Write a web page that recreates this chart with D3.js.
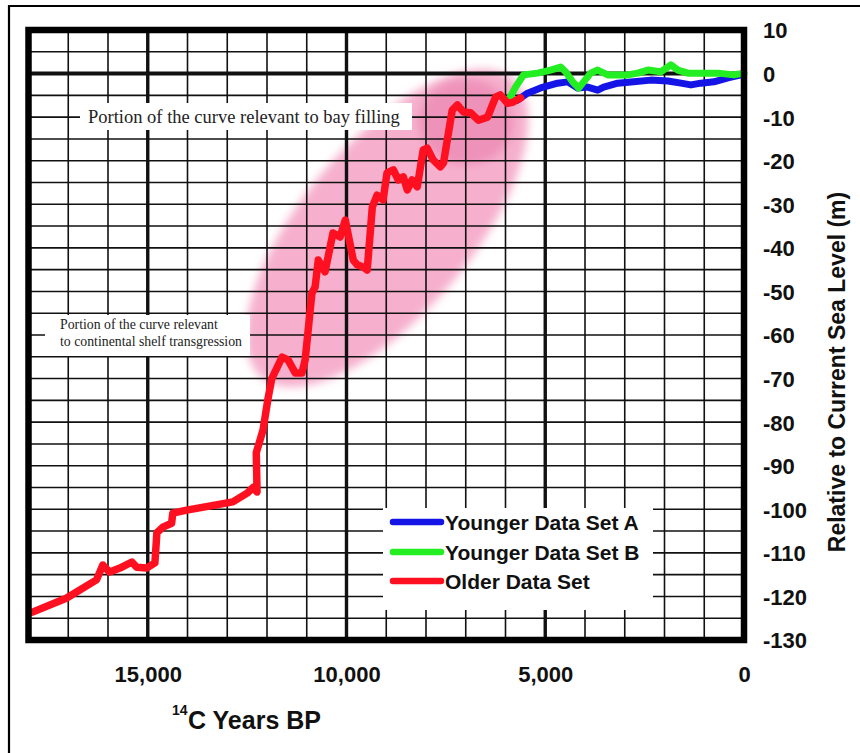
<!DOCTYPE html>
<html><head><meta charset="utf-8">
<script src="https://cdn.jsdelivr.net/npm/d3@7"></script>
<style>
html,body{margin:0;padding:0;background:#fff;}
svg{display:block;}
</style></head>
<body>
<svg id="chart" width="860" height="753"></svg>
<script>
// ---- data ----
const olderYears  = [17900,17050,16290,16130,15960,15700,15400,15280,15030,14820,14770,14620,14400,14370,14020,12860,12500,12350,12250,12270,12100,11980,11880,11620,11470,11290,11120,11040,10870,10790,10710,10540,10340,10160,10030,9830,9730,9580,9480,9350,9230,9080,8980,8820,8700,8570,8470,8350,8220,8070,7970,7820,7640,7560,7340,7210,7060,6880,6680,6450,6250,6130,5950,5820,5620];
const olderLevels = [-123.6,-120.4,-116.2,-112.8,-114.4,-113.5,-112.1,-113.3,-113.5,-112.3,-105.4,-104.1,-103.2,-100.9,-100.2,-98.3,-96.3,-95.0,-96.0,-87.0,-81.8,-74.9,-70.0,-65.1,-65.7,-68.7,-68.7,-65.7,-50.4,-49.0,-42.8,-45.5,-36.6,-37.5,-33.6,-42.8,-43.9,-44.4,-45.1,-30.6,-27.9,-29.0,-22.8,-22.1,-24.4,-23.7,-26.7,-24.4,-26.0,-17.5,-17.1,-19.8,-21.4,-20.5,-8.4,-7.2,-8.8,-9.0,-10.7,-10.0,-5.4,-4.9,-6.8,-6.6,-5.6];
const youngerAYears  = [5697,5446,5118,4689,4437,4185,3933,3681,3530,3177,2773,2345,1916,1588,1336,1084,756,403,76];
const youngerALevels = [-6.1,-4.5,-3.3,-2.2,-1.9,-3.3,-3.1,-3.8,-3.1,-2.2,-1.9,-1.5,-1.7,-2.2,-2.6,-2.2,-1.9,-1.0,-0.3];
const youngerBYears  = [5924,5748,5546,5194,4866,4614,4488,4311,4160,4034,3858,3681,3429,3177,2924,2672,2420,2093,1840,1664,1412,1084,655,252,0];
const youngerBLevels = [-6.1,-3.1,-0.3,0.1,0.8,1.5,0.4,-1.9,-3.3,-1.9,0.1,0.8,-0.3,-0.3,-0.3,0.1,0.8,0.4,2.0,0.8,0.1,0.1,0.1,-0.3,0.1];
const seriesNames = ["Younger Data Set A","Younger Data Set B","Older Data Set"];
const seriesColors = ["#1414e6","#22ee22","#ff1020"];
const xTickValues = [15000,10000,5000,0];
const yTickValues = [10,0,-10,-20,-30,-40,-50,-60,-70,-80,-90,-100,-110,-120,-130];
const xGridValues = [17000,16000,15000,14000,13000,12000,11000,10000,9000,8000,7000,6000,5000,4000,3000,2000,1000];
const yGridValues = [5,0,-5,-10,-15,-20,-25,-30,-35,-40,-45,-50,-55,-60,-65,-70,-75,-80,-85,-90,-95,-100,-105,-110,-115,-120,-125];
const noteBay = "Portion of the curve relevant to bay filling";
const noteShelf = ["Portion of the curve relevant","to continental shelf transgression"];
const xTitle = "C Years BP", xTitleSup = "14";
const yTitle = "Relative to Current Sea Level (m)";

// ---- drawing ----
const svg = d3.select("#chart");
const x = d3.scaleLinear().domain([18000,0]).range([28.5,744]);
const y = d3.scaleLinear().domain([10,-130]).range([30,640]);

// outer frame
svg.append("path").attr("d","M9,753 V6 H860").attr("fill","none").attr("stroke","#000").attr("stroke-width",2.2);

// defs
const defs = svg.append("defs");
const f = defs.append("filter").attr("id","blur").attr("x","-30%").attr("y","-30%").attr("width","160%").attr("height","160%");
f.append("feGaussianBlur").attr("stdDeviation",4.5);
defs.append("clipPath").attr("id","plotclip").append("rect")
  .attr("x",x(18000)).attr("y",y(10)).attr("width",x(0)-x(18000)).attr("height",y(-130)-y(10));

const plot = svg.append("g").attr("clip-path","url(#plotclip)");

// pink highlight ellipses
plot.append("ellipse").attr("cx",387).attr("cy",228).attr("rx",195).attr("ry",85)
  .attr("transform","rotate(-50,387,228)").attr("fill","#f6b0cd").attr("filter","url(#blur)");
plot.append("ellipse").attr("cx",466).attr("cy",122).attr("rx",47).attr("ry",43)
  .attr("fill","#ec88b3").attr("opacity",0.75).attr("filter","url(#blur)");

// grid
plot.selectAll("line.vg").data(xGridValues).enter().append("line")
  .attr("x1",d=>x(d)).attr("x2",d=>x(d)).attr("y1",y(10)).attr("y2",y(-130))
  .attr("stroke","#111").attr("stroke-width",d=>d%5000===0?3.4:1.6);
plot.selectAll("line.hg").data(yGridValues).enter().append("line")
  .attr("y1",d=>y(d)).attr("y2",d=>y(d)).attr("x1",x(18000)).attr("x2",x(0))
  .attr("stroke","#111").attr("stroke-width",d=>d===0?4:1.6);

// annotation boxes
svg.append("rect").attr("x",80).attr("y",103).attr("width",332).attr("height",27).attr("fill","#fff");
svg.append("text").attr("x",88).attr("y",123).attr("font-family","'Liberation Serif','Times New Roman',serif")
  .attr("font-size",18.5).attr("fill","#222").text(noteBay);
svg.append("rect").attr("x",45).attr("y",315).attr("width",205).attr("height",41).attr("fill","#fff");
svg.selectAll("text.shelf").data(noteShelf).enter().append("text")
  .attr("x",60).attr("y",(d,i)=>329+i*16.5).attr("font-family","'Liberation Serif','Times New Roman',serif")
  .attr("font-size",13.8).attr("fill","#222").text(d=>d);

// curves
const line = d3.line().x(d=>x(d[0])).y(d=>y(d[1])).curve(d3.curveLinear);
const older = olderYears.map((v,i)=>[v,olderLevels[i]]);
const ya = youngerAYears.map((v,i)=>[v,youngerALevels[i]]);
const yb = youngerBYears.map((v,i)=>[v,youngerBLevels[i]]);
const curves = svg.append("g");
curves.append("path").datum(ya).attr("d",line).attr("fill","none").attr("stroke",seriesColors[0])
  .attr("stroke-width",7).attr("stroke-linejoin","round").attr("stroke-linecap","round");
curves.append("path").datum(yb).attr("d",line).attr("fill","none").attr("stroke",seriesColors[1])
  .attr("stroke-width",7).attr("stroke-linejoin","round").attr("stroke-linecap","round");
curves.append("path").datum(older).attr("d",line).attr("fill","none").attr("stroke",seriesColors[2])
  .attr("stroke-width",7.5).attr("stroke-linejoin","round").attr("stroke-linecap","round");

// plot border
svg.append("rect").attr("x",x(18000)).attr("y",y(10)).attr("width",x(0)-x(18000)).attr("height",y(-130)-y(10))
  .attr("fill","none").attr("stroke","#000").attr("stroke-width",6.5);

// legend
const lg = svg.append("g");
lg.append("rect").attr("x",383).attr("y",508).attr("width",270).attr("height",102).attr("fill","#fff");
const legY = [522,552,581];
seriesNames.forEach((n,i)=>{
  lg.append("line").attr("x1",393).attr("x2",441).attr("y1",legY[i]).attr("y2",legY[i])
    .attr("stroke",seriesColors[i]).attr("stroke-width",6.5).attr("stroke-linecap","round");
  lg.append("text").attr("x",445).attr("y",legY[i]).attr("dy","0.36em")
    .attr("font-family","'Liberation Sans',Arial,sans-serif").attr("font-weight","bold").attr("font-size",21)
    .attr("fill","#111").text(n);
});

// axes (labels only)
const xAxis = d3.axisBottom(x).tickValues(xTickValues).tickFormat(d3.format(",")).tickSize(0);
const gx = svg.append("g").attr("transform","translate(0,662)").call(xAxis);
gx.select(".domain").remove();
gx.selectAll("text").attr("font-family","'Liberation Sans',Arial,sans-serif").attr("font-weight","bold")
  .attr("font-size",22).attr("fill","#111").attr("dy","0.71em").attr("y",4);

const yAxis = d3.axisRight(y).tickValues(yTickValues).tickFormat(d=>String(d)).tickSize(0);
const gy = svg.append("g").attr("transform","translate(763,0)").call(yAxis);
gy.select(".domain").remove();
gy.selectAll("text").attr("font-family","'Liberation Sans',Arial,sans-serif").attr("font-weight","bold")
  .attr("font-size",22).attr("fill","#111").attr("x",0).attr("text-anchor","start").attr("dy","0.36em");

// titles
const xt = svg.append("text").attr("font-family","'Liberation Sans',Arial,sans-serif").attr("font-weight","bold").attr("fill","#111");
xt.append("tspan").attr("x",172).attr("y",715).attr("font-size",14).text(xTitleSup);
xt.append("tspan").attr("x",188).attr("y",729).attr("font-size",25).text(xTitle);

svg.append("text").attr("transform","translate(845,372) rotate(-90)").attr("text-anchor","middle")
  .attr("font-family","'Liberation Sans',Arial,sans-serif").attr("font-weight","bold").attr("font-size",23)
  .attr("fill","#111").text(yTitle);
</script>
</body></html>
